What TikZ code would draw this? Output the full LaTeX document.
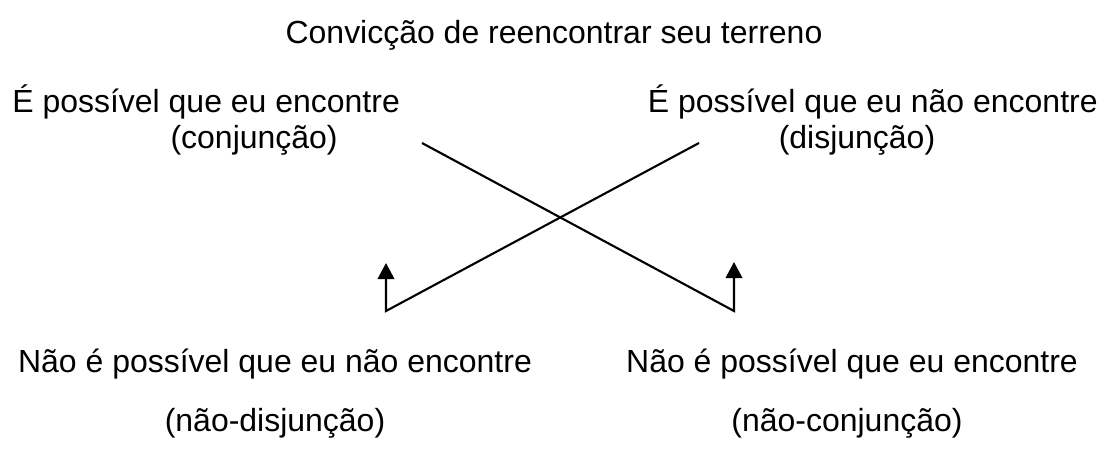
\documentclass[tikz,border=0pt]{standalone}
\usepackage{fontspec}
\setmainfont{Liberation Sans}
\usetikzlibrary{arrows.meta}
\begin{document}
\begin{tikzpicture}[x=0.02cm, y=-0.02cm, every node/.style={font=\fontsize{18.2}{22}\selectfont}]
\tikzset{lbl/.style={inner sep=0pt,anchor=base},
  cross/.style={line width=1.2pt,line join=miter},
  up/.style={-{Triangle[width=0.33cm,length=0.32cm]}}}
\useasboundingbox (0,0) rectangle (1109,450);
\node[lbl] (title) at (554,43) {Convicção de reencontrar seu terreno};
\node[lbl,anchor=base west] (conj) at (12,112) {É possível que eu encontre};
\node[lbl,anchor=base east] (conjlbl) at (338,148) {(conjunção)};
\node[lbl,anchor=base east] (disj) at (1098,112) {É possível que eu não encontre};
\node[lbl] (disjlbl) at (857,148) {(disjunção)};
\node[lbl] (ndisj) at (275,372) {Não é possível que eu não encontre};
\node[lbl] (ndisjlbl) at (275,431) {(não-disjunção)};
\node[lbl] (nconj) at (852,372) {Não é possível que eu encontre};
\node[lbl] (nconjlbl) at (847,431) {(não-conjunção)};
% crossing lines with the arrows going up
\coordinate (a1) at (422,143);
\coordinate (b1) at (734,311);
\coordinate (t1) at (734,262);
\coordinate (a2) at (699,143);
\coordinate (b2) at (386,311);
\coordinate (t2) at (386,263);
\draw[cross,up] (a1) -- (b1) -- (t1);
\draw[cross,up] (a2) -- (b2) -- (t2);
\end{tikzpicture}
\end{document}
